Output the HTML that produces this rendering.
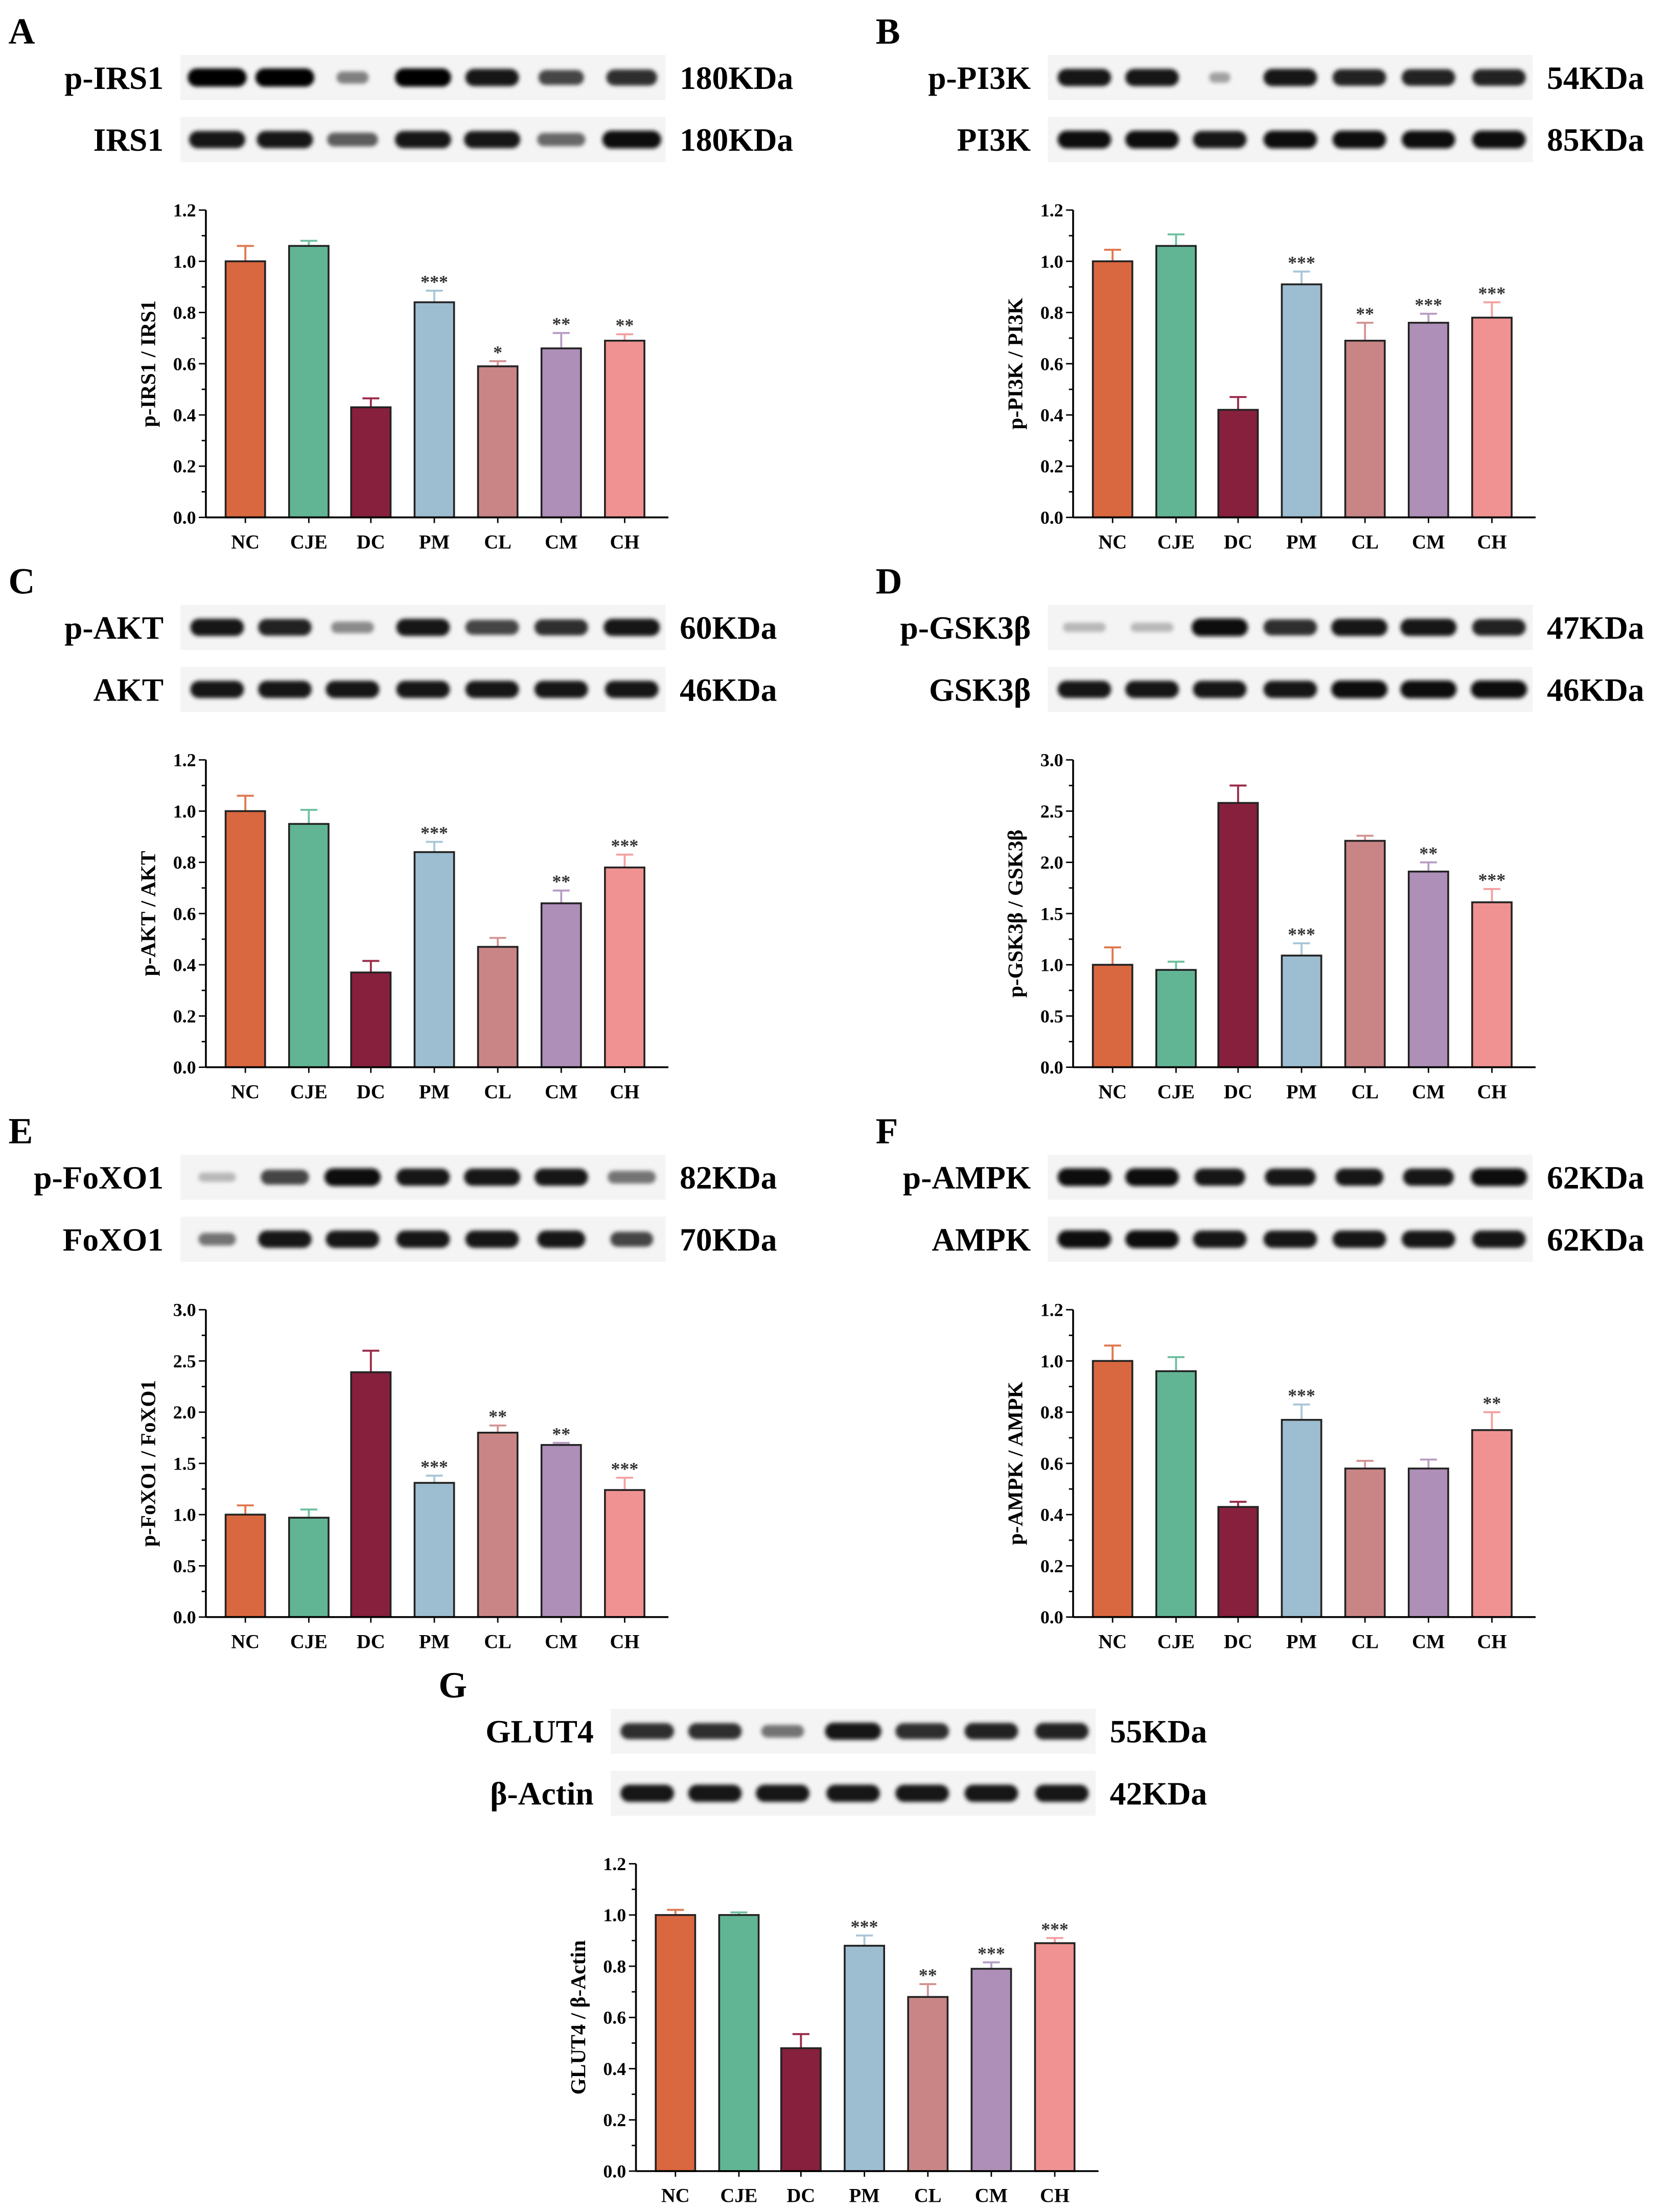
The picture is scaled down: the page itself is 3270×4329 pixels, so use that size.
<!DOCTYPE html>
<html><head><meta charset="utf-8"><style>
html,body{margin:0;padding:0;background:#fff}
svg{display:block;font-family:"Liberation Serif",serif;font-weight:bold}
</style></head><body>
<svg id="fig" width="3270" height="4329" viewBox="0 0 1185 1569" preserveAspectRatio="none" xmlns="http://www.w3.org/2000/svg">
<defs><filter id="blur" x="-20%" y="-50%" width="140%" height="200%"><feGaussianBlur stdDeviation="1.4"/></filter></defs>
</svg>
<script>
const categories = ["NC","CJE","DC","PM","CL","CM","CH"];
const colors = ["#d9673f","#62b594","#86203c","#9dbdd0","#c98585","#ad8fb8","#f09292"];
const errColors = ["#e0774f","#6fc09f","#9a2a48","#a9c6d8","#d39393","#b89cc3","#f5a0a0"];
const valuesA = [1.00,1.06,0.43,0.84,0.59,0.66,0.69];
const errA = [0.06,0.02,0.035,0.045,0.02,0.06,0.025];
const starsA = ["","","","***","*","**","**"];
const valuesB = [1.00,1.06,0.42,0.91,0.69,0.76,0.78];
const errB = [0.045,0.045,0.05,0.05,0.07,0.035,0.06];
const starsB = ["","","","***","**","***","***"];
const valuesC = [1.00,0.95,0.37,0.84,0.47,0.64,0.78];
const errC = [0.06,0.055,0.045,0.04,0.035,0.05,0.05];
const starsC = ["","","","***","","**","***"];
const valuesD = [1.00,0.95,2.58,1.09,2.21,1.91,1.61];
const errD = [0.17,0.08,0.17,0.12,0.05,0.09,0.13];
const starsD = ["","","","***","","**","***"];
const valuesE = [1.00,0.97,2.39,1.31,1.80,1.68,1.24];
const errE = [0.09,0.08,0.21,0.07,0.07,0.02,0.12];
const starsE = ["","","","***","**","**","***"];
const valuesF = [1.00,0.96,0.43,0.77,0.58,0.58,0.73];
const errF = [0.06,0.055,0.02,0.06,0.03,0.035,0.07];
const starsF = ["","","","***","","","**"];
const valuesG = [1.00,1.00,0.48,0.88,0.68,0.79,0.89];
const errG = [0.02,0.01,0.055,0.04,0.05,0.025,0.02];
const starsG = ["","","","***","**","***","***"];
const ticksSmall = ["0.0","0.2","0.4","0.6","0.8","1.0","1.2"];
const ticksLarge = ["0.0","0.5","1.0","1.5","2.0","2.5","3.0"];

const svg = document.getElementById('fig');
const NS = "http://www.w3.org/2000/svg";
function mk(tag, attrs, parent){
  const e = document.createElementNS(NS, tag);
  for (const k in attrs) e.setAttribute(k, attrs[k]);
  (parent||svg).appendChild(e);
  return e;
}
function txt(s, attrs, parent){ const t = mk('text', attrs, parent); t.textContent = s; return t; }

const panels = [
 {id:'a',letter:'A',dx:0,dy:0,vals:valuesA,errs:errA,stars:starsA,ticks:ticksSmall,max:1.2,title:'p-IRS1 / IRS1',
  rows:[['p-IRS1','180KDa',[1,1,0.45,1,0.9,0.7,0.8],[1.1,1.1,0.6,1.05,1,0.85,0.95]],['IRS1','180KDa',[0.9,0.9,0.6,0.9,0.9,0.55,0.95],[1.05,1.05,0.95,1.05,1.05,0.9,1.1]]]},
 {id:'b',letter:'B',dx:615,dy:0,vals:valuesB,errs:errB,stars:starsB,ticks:ticksSmall,max:1.2,title:'p-PI3K / PI3K',
  rows:[['p-PI3K','54KDa',[0.9,0.9,0.3,0.9,0.85,0.85,0.85],[1,1,0.4,1,1,1,1]],['PI3K','85KDa',[0.95,0.95,0.9,0.95,0.95,0.95,0.95],[1,1,1,1,1,1,1]]]},
 {id:'c',letter:'C',dx:0,dy:390,vals:valuesC,errs:errC,stars:starsC,ticks:ticksSmall,max:1.2,title:'p-AKT / AKT',
  rows:[['p-AKT','60KDa',[0.9,0.85,0.4,0.9,0.7,0.8,0.9],[1,1,0.8,1,1,1,1.05]],['AKT','46KDa',[0.9,0.9,0.9,0.9,0.9,0.9,0.9],[1,1,1,1,1,1,1]]]},
 {id:'d',letter:'D',dx:615,dy:390,vals:valuesD,errs:errD,stars:starsD,ticks:ticksLarge,max:3.0,title:'p-GSK3\u03b2 / GSK3\u03b2',
  rows:[['p-GSK3\u03b2','47KDa',[0.2,0.2,0.95,0.8,0.9,0.9,0.85],[0.8,0.8,1.05,1,1.05,1.05,1]],['GSK3\u03b2','46KDa',[0.9,0.9,0.9,0.9,0.95,0.95,0.95],[1,1,1,1,1.05,1.05,1.05]]]},
 {id:'e',letter:'E',dx:0,dy:780,vals:valuesE,errs:errE,stars:starsE,ticks:ticksLarge,max:3.0,title:'p-FoXO1 / FoXO1',
  rows:[['p-FoXO1','82KDa',[0.2,0.7,0.95,0.9,0.9,0.9,0.5],[0.7,0.9,1.05,1,1.05,1,0.9]],['FoXO1','70KDa',[0.5,0.9,0.9,0.9,0.9,0.9,0.7],[0.7,1,1,1,1,0.9,0.8]]]},
 {id:'f',letter:'F',dx:615,dy:780,vals:valuesF,errs:errF,stars:starsF,ticks:ticksSmall,max:1.2,title:'p-AMPK / AMPK',
  rows:[['p-AMPK','62KDa',[0.95,0.95,0.9,0.9,0.9,0.9,0.95],[1,1,0.95,0.95,0.9,0.95,1.05]],['AMPK','62KDa',[0.95,0.95,0.9,0.9,0.9,0.9,0.9],[1,1,1,1,1,1,1]]]},
 {id:'g',letter:'G',dx:305,dy:1173,vals:valuesG,errs:errG,stars:starsG,ticks:ticksSmall,max:1.2,title:'GLUT4 / \u03b2-Actin',
  rows:[['GLUT4','55KDa',[0.8,0.8,0.5,0.9,0.8,0.85,0.85],[1,1,0.8,1.05,1,1,1]],['\u03b2-Actin','42KDa',[0.9,0.9,0.9,0.9,0.9,0.9,0.9],[1,1,1,1,1,1,1]]]}
];
const laneX = [154,202,250,300,349,398,448];
const barX = [174,219,263,308,353,398,443];

panels.forEach(p=>{
  const g = mk('g',{transform:`translate(${p.dx},${p.dy})`});
  
  
  const L = txt(p.letter,{x:6,y:31,'font-size':26},g);
  
  
  p.rows.forEach((r,ri)=>{
    const cy = ri===0 ? 55 : 99;
    const bg = mk('rect',{x:128,y:cy-16,width:344,height:32,fill:'#f4f4f4'},g);
    
    
    r[2].forEach((v,i)=>{
      const w = 38*r[3][i], h = 5+8*v;
      const c = Math.round(230-230*v);
      const b = mk('rect',{x:laneX[i]-w/2,y:cy-h/2,width:w,height:h,rx:h/2,fill:`rgb(${c},${c},${c})`,filter:'url(#blur)'},g);
      
      
    });
    const lb = txt(r[0],{x:116,y:cy+8,'font-size':23,'text-anchor':'end'},g);
    
    
    const kd = txt(r[1],{x:482,y:cy+8,'font-size':23},g);
    
    
  });
  const y0 = 367, y1 = 149, ax = 146, axEnd = 474;
  const ys = v => y0 - (v/p.max)*(y0-y1);
  const n = p.ticks.length-1;
  p.vals.forEach((v,i)=>{
    const cx = barX[i], top = ys(v), et = ys(v+p.errs[i]);
    const eb = mk('line',{x1:cx,x2:cx,y1:top,y2:et,stroke:errColors[i],'stroke-width':1.4},g);
    
    
    const ec = mk('line',{x1:cx-6,x2:cx+6,y1:et,y2:et,stroke:errColors[i],'stroke-width':1.4},g);
    
    
    const r = mk('rect',{x:cx-14,y:top,width:28,height:y0-top,fill:colors[i],stroke:'#222','stroke-width':1.3},g);
    
    
    if(p.stars[i]){
      const s = txt(p.stars[i],{x:cx,y:et-2,'font-size':13,'text-anchor':'middle',fill:'#333'},g);
      
      
    }
    const xl = txt(categories[i],{x:cx,y:389,'font-size':14,'text-anchor':'middle'},g);
    
    
    const xt = mk('line',{x1:cx,x2:cx,y1:y0,y2:y0+4,stroke:'#000','stroke-width':1},g);
    
    
  });
  p.ticks.forEach((t,i)=>{
    const y = y0 - i*(y0-y1)/n;
    const tk = mk('line',{x1:ax-5,x2:ax,y1:y,y2:y,stroke:'#000','stroke-width':1},g);
    
    
    const tl = txt(t,{x:ax-7,y:y+4.5,'font-size':13,'text-anchor':'end'},g);
    
    
    if(i<n){
      const ym = y - (y0-y1)/n/2;
      const mt = mk('line',{x1:ax-3,x2:ax,y1:ym,y2:ym,stroke:'#000','stroke-width':1},g);
      
      
    }
  });
  const ya = mk('line',{x1:ax,x2:ax,y1:y1,y2:y0,stroke:'#000','stroke-width':1.3},g);
  
  
  const xa = mk('line',{x1:ax,x2:axEnd,y1:y0,y2:y0,stroke:'#000','stroke-width':1.3},g);
  
  
  const yt = txt(p.title,{x:0,y:0,'font-size':15,'text-anchor':'middle',transform:`translate(110,${(y0+y1)/2}) rotate(-90)`},g);
  
  
});
</script>
</body></html>
